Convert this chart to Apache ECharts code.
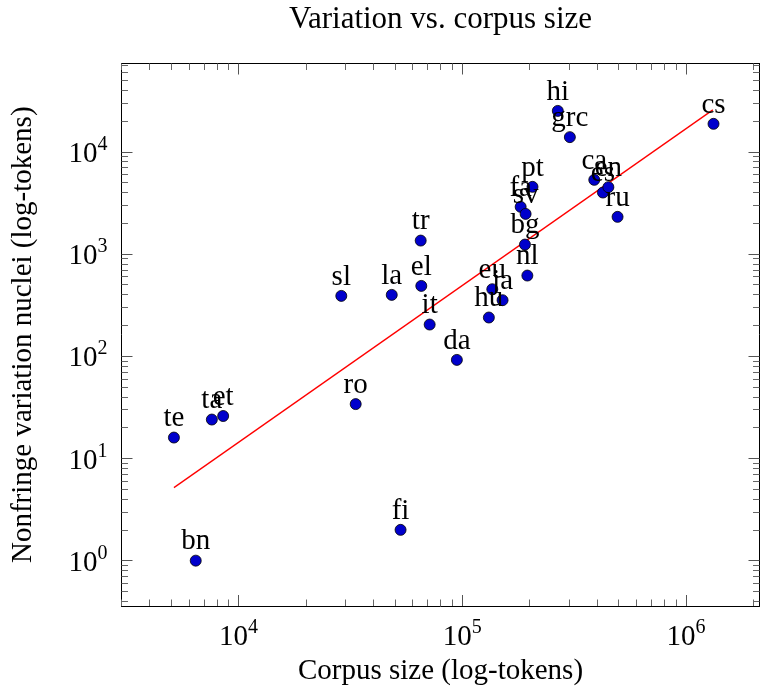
<!DOCTYPE html>
<html>
<head>
<meta charset="utf-8">
<script src="https://cdn.jsdelivr.net/npm/echarts@6/dist/echarts.min.js"></script>
<style>
  html, body { margin: 0; padding: 0; background: #fff; }
  #chart { width: 761px; height: 687px; }
</style>
</head>
<body>
<div id="chart"></div>
<script>
// language codes with corpus size (tokens) and nonfringe variation nuclei
const langs = ['te', 'bn', 'ta', 'et', 'sl', 'ro', 'la', 'fi', 'el', 'tr', 'it', 'da', 'hu', 'eu', 'ja',
  'bg', 'nl', 'fa', 'sv', 'pt', 'hi', 'grc', 'ca', 'es', 'en', 'ru', 'cs'];
const corpusSize = [5145, 6440, 7600, 8540, 28800, 33400, 48400, 53000, 65600, 65200, 71500, 94600, 131500, 136200, 151400,
  190600, 195400, 182400, 191900, 206000, 267300, 302600, 389000, 425300, 449800, 494400, 1327000];
const nuclei = [16, 1, 24, 26, 389, 34, 398, 2, 487, 1352, 204, 92, 239, 452, 353,
  1236, 615, 2890, 2467, 4536, 25100, 13900, 5310, 3990, 4505, 2307, 18750];

// fitted line endpoints
const fitX = [5145, 1318000];
const fitY = [5.18, 25700];

// log axes: decades with labels, minor ticks in between
const xTickExp = [4, 5, 6];
const yTickExp = [0, 1, 2, 3, 4];
const xRange = [3000, 2130000];
const yRange = [0.36, 73000];

const FONT = 'Liberation Serif';
const lg = Math.log10;

function minorTicks(lo, hi) {
  const out = [];
  for (let e = Math.floor(lg(lo)); e <= Math.ceil(lg(hi)); e++) {
    for (let k = 2; k <= 9; k++) {
      const v = lg(k) + e;
      if (v >= lg(lo) && v <= lg(hi)) out.push(v);
    }
  }
  return out;
}

const xMinor = minorTicks(xRange[0], xRange[1]);
const yMinor = minorTicks(yRange[0], yRange[1]);

const powRich = {
  b: { fontFamily: FONT, fontSize: 29, color: '#000', lineHeight: 34, verticalAlign: 'bottom' },
  s: { fontFamily: FONT, fontSize: 20, color: '#000', lineHeight: 20, verticalAlign: 'top' }
};
const powFmt = v => '{b|10}{s|' + Math.round(v) + '}';

function axisSet(dir, range, majors, minors, name) {
  const base = {
    type: 'value',
    min: lg(range[0]),
    max: lg(range[1]),
    splitLine: { show: false },
    axisLine: { show: false, onZero: false }
  };
  const sides = dir === 'x' ? ['bottom', 'top'] : ['left', 'right'];
  const axes = [];
  sides.forEach((pos, i) => {
    axes.push(Object.assign({}, base, {
      position: pos,
      axisLine: { show: true, onZero: false, lineStyle: { color: '#000', width: 1 } },
      axisTick: { show: true, inside: true, length: 11, customValues: majors, lineStyle: { color: '#555', width: 1 } },
      axisLabel: i === 0 ? { show: true, customValues: majors, formatter: powFmt, rich: powRich, margin: dir === 'x' ? 12 : 14 } : { show: false },
      name: i === 0 ? name : '',
      nameLocation: 'middle',
      nameGap: dir === 'x' ? 48 : 84,
      nameTextStyle: { fontFamily: FONT, fontSize: 29, color: '#000' }
    }));
    axes.push(Object.assign({}, base, {
      position: pos,
      axisTick: { show: true, inside: true, length: 6.5, customValues: minors, lineStyle: { color: '#666', width: 1 } },
      axisLabel: { show: false }
    }));
  });
  return axes;
}

const chart = echarts.init(document.getElementById('chart'));

const option = {
  animation: false,
  backgroundColor: '#fff',
  graphic: [{
    type: 'text',
    x: 440.5,
    y: 20,
    style: {
      text: 'Variation vs. corpus size',
      font: '31px "Liberation Serif"',
      fill: '#000',
      align: 'center',
      verticalAlign: 'middle'
    }
  }],
  grid: { left: 121.5, right: 1.5, top: 63.5, bottom: 81, containLabel: false, outerBoundsMode: 'none' },
  xAxis: axisSet('x', xRange, xTickExp, xMinor, 'Corpus size (log-tokens)'),
  yAxis: axisSet('y', yRange, yTickExp, yMinor, 'Nonfringe variation nuclei (log-tokens)'),
  series: [
    {
      type: 'line',
      data: fitX.map((x, i) => [lg(x), lg(fitY[i])]),
      symbol: 'none',
      lineStyle: { color: '#ff0000', width: 1.3 },
      z: 1
    },
    {
      type: 'scatter',
      data: langs.map((l, i) => ({ name: l, value: [lg(corpusSize[i]), lg(nuclei[i])] })),
      symbol: 'circle',
      symbolSize: 11,
      itemStyle: { color: '#0000cc', borderColor: '#000', borderWidth: 0.8, opacity: 1 },
      label: {
        show: true,
        position: 'top',
        distance: -1.5,
        formatter: p => p.name,
        fontFamily: FONT,
        fontSize: 29,
        color: '#000'
      },
      z: 2
    }
  ]
};

chart.setOption(option);
</script>
</body>
</html>
